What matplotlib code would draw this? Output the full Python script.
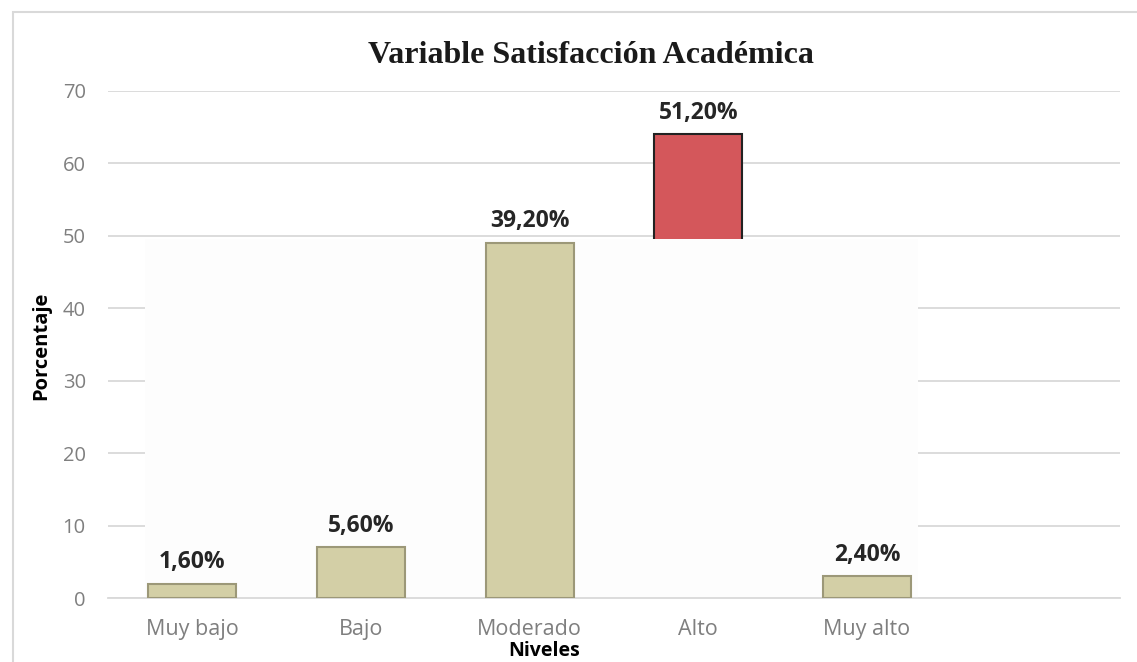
import numpy as np
import matplotlib
matplotlib.use('Agg')
import matplotlib.pyplot as plt
from matplotlib.patches import Rectangle

# datos
niveles = ["Muy bajo", "Bajo", "Moderado", "Alto", "Muy alto"]
frecuencia = [2, 7, 49, 64, 3]
etiquetas = ["1,60%", "5,60%", "39,20%", "51,20%", "2,40%"]
colores = ["#d3cfa6", "#d3cfa6", "#d3cfa6", "#d4575b", "#d3cfa6"]
yticks = [0, 10, 20, 30, 40, 50, 60, 70]

plt.rcParams['font.family'] = ['Open Sans', 'DejaVu Sans']

fig = plt.figure(figsize=(11.37, 6.62), dpi=100)
ax = fig.add_axes([108/1137, 64/662, 1012/1137, 507/662])

x = np.arange(len(niveles))

# gridlines
ax.set_axisbelow(True)
ax.yaxis.grid(True, color='#d9d9d9', linewidth=1.3, zorder=0)

# la barra "Alto" queda parcialmente tapada por el recuadro claro
for i in range(len(niveles)):
    z = 1 if niveles[i] == "Alto" else 3
    ec = '#222222' if niveles[i] == "Alto" else '#9c9878'
    ax.bar(x[i], frecuencia[i], width=0.52, color=colores[i], edgecolor=ec,
           linewidth=1.5, zorder=z)
    ax.annotate(etiquetas[i], (x[i], frecuencia[i]), xytext=(0, 7),
                textcoords='offset points', ha='center', va='bottom',
                fontsize=16.5, fontweight='bold', color='#262626', zorder=5)

# recuadro casi blanco (artefacto de la imagen original)
ax.add_patch(Rectangle((-0.28, 0), 4.58, 49.5, facecolor='#fdfdfd',
                       edgecolor='none', zorder=2))

ax.set_xlim(-0.5, 5.5)
ax.set_ylim(0, 70)
ax.set_yticks(yticks)
ax.set_xticks(x)
ax.set_xticklabels(niveles)
ax.tick_params(axis='both', length=0, labelcolor='#7f7f7f')
ax.tick_params(axis='x', pad=15, labelsize=15.5)
ax.tick_params(axis='y', pad=16, labelsize=14.5)

for s in ['top', 'right', 'left']:
    ax.spines[s].set_visible(False)
ax.spines['bottom'].set_color('#d9d9d9')
ax.spines['bottom'].set_linewidth(1.3)

fig.text(591/1137, 1 - 63/662, "Variable Satisfacción Académica",
         family='Liberation Serif', fontweight='bold', fontsize=23,
         ha='center', va='baseline', color='#1a1a1a')
fig.text(41/1137, 1 - 346/662, "Porcentaje", rotation=90, fontsize=14.5,
         fontweight='bold', ha='center', va='center', color='#000000')
fig.text(544/1137, 1 / 662, "Niveles", fontsize=14, fontweight='bold',
         ha='center', va='bottom', color='#000000')

# marco exterior
fig.patches.append(Rectangle((13/1137, -0.05), 1.1, 1.05 - 12/662,
                             transform=fig.transFigure, fill=False,
                             edgecolor='#d9d9d9', linewidth=1.5))

fig.savefig('out.png', dpi=100)
